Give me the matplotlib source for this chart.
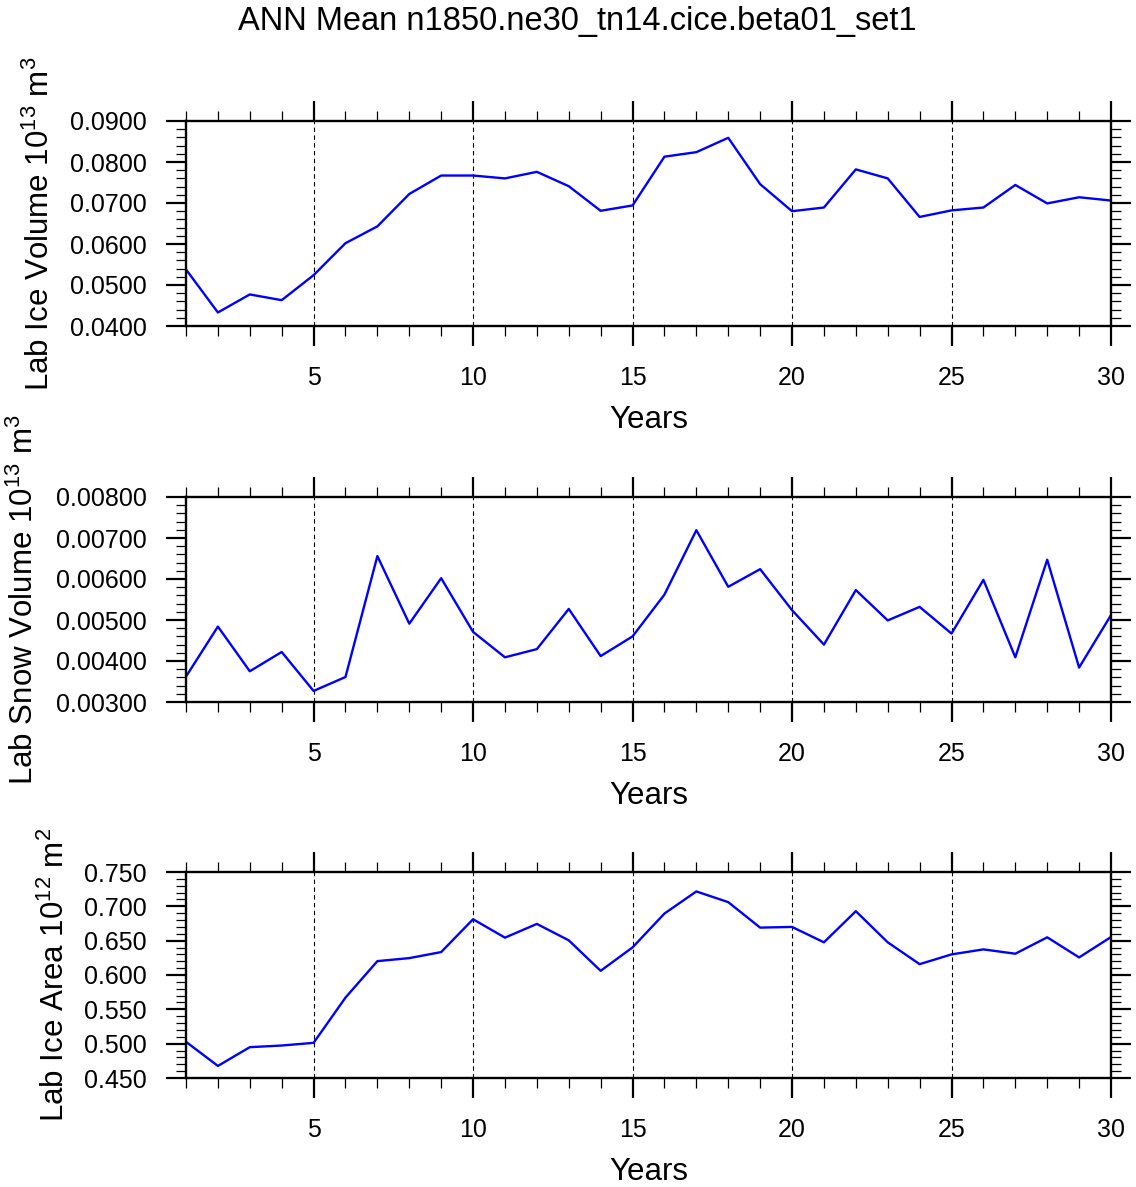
import matplotlib
matplotlib.use('Agg')
import matplotlib.pyplot as plt
import matplotlib.ticker as mticker
import numpy as np

plt.rcParams['font.family'] = ['Liberation Sans', 'DejaVu Sans']
plt.rcParams['mathtext.fontset'] = 'custom'
plt.rcParams['mathtext.rm'] = 'Liberation Sans'
plt.rcParams['mathtext.it'] = 'Liberation Sans'

# Data
years = np.arange(1, 31)
ice_volume = [0.0538, 0.0433, 0.0477, 0.0463, 0.0524, 0.0602, 0.0643, 0.0722, 0.0767, 0.0767,
              0.0760, 0.0776, 0.0741, 0.0681, 0.0694, 0.0813, 0.0824, 0.0859, 0.0746, 0.0680,
              0.0689, 0.0782, 0.0760, 0.0666, 0.0682, 0.0689, 0.0744, 0.0699, 0.0714, 0.0706]
snow_volume = [0.00362, 0.00484, 0.00375, 0.00422, 0.00327, 0.00361, 0.00656, 0.00491, 0.00602, 0.00471,
               0.00409, 0.00429, 0.00527, 0.00412, 0.00460, 0.00562, 0.00719, 0.00581, 0.00624, 0.00524,
               0.00440, 0.00573, 0.00499, 0.00532, 0.00467, 0.00598, 0.00409, 0.00647, 0.00384, 0.00512]
ice_area = [0.5027, 0.4676, 0.4949, 0.4973, 0.5012, 0.5671, 0.6202, 0.6246, 0.6334, 0.6812,
            0.6544, 0.6744, 0.6505, 0.6061, 0.6402, 0.6895, 0.7217, 0.7061, 0.6690, 0.6700,
            0.6476, 0.6929, 0.6476, 0.6158, 0.6300, 0.6373, 0.6310, 0.6549, 0.6256, 0.6553]

title = 'ANN Mean n1850.ne30_tn14.cice.beta01_set1'
ylabels = [r'Lab Ice Volume 10$^{13}$ m$^{3}$',
           r'Lab Snow Volume 10$^{13}$ m$^{3}$',
           r'Lab Ice Area 10$^{12}$ m$^{2}$']
ylims = [(0.04, 0.09), (0.003, 0.008), (0.45, 0.75)]
ymajor = [0.01, 0.001, 0.05]
yfmt = ['%.4f', '%.5f', '%.3f']
series = [ice_volume, snow_volume, ice_area]

W, H = 1136, 1187
fig = plt.figure(figsize=(W / 100, H / 100), dpi=100)

# axes boxes in pixels: (top, bottom)
boxes = [(121, 326), (497, 702), (872, 1078)]
left, right = 186, 1111
ylab_x = [-0.140, -0.158, -0.124]  # NCL shifts the label with the tick label width

for i, (top, bot) in enumerate(boxes):
    ax = fig.add_axes([left / W, 1 - bot / H, (right - left) / W, (bot - top) / H])
    ax.plot(years, series[i], color='#0000ff', linewidth=1.7)
    ax.set_xlim(1, 30)
    ax.set_ylim(*ylims[i])
    ax.xaxis.set_major_locator(mticker.MultipleLocator(5))
    ax.xaxis.set_minor_locator(mticker.MultipleLocator(1))
    ax.yaxis.set_major_locator(mticker.MultipleLocator(ymajor[i]))
    ax.yaxis.set_minor_locator(mticker.MultipleLocator(ymajor[i] / 5))
    ax.yaxis.set_major_formatter(mticker.FormatStrFormatter(yfmt[i]))
    ax.tick_params(which='both', direction='out', top=True, right=True,
                   labelsize=18, width=1.6)
    ax.tick_params(which='major', length=14.5)
    ax.tick_params(which='minor', length=7, width=0.9)
    ax.tick_params(axis='y', which='major', pad=13.5)
    ax.tick_params(axis='x', which='major', pad=14)
    for s in ax.spines.values():
        s.set_linewidth(1.7)
    ax.grid(axis='x', which='major', color='black', linestyle=(0, (4, 3)), linewidth=0.8)
    ax.set_xlabel('Years', fontsize=22.5)
    ax.xaxis.set_label_coords(0.5, -0.385)
    ax.set_ylabel(ylabels[i], fontsize=22.5)
    ax.yaxis.set_label_coords(ylab_x[i], 0.5)

fig.text(577 / W, 1 - 30 / H, title, ha='center', va='baseline', fontsize=23.5)

fig.savefig('out.png', dpi=100)
